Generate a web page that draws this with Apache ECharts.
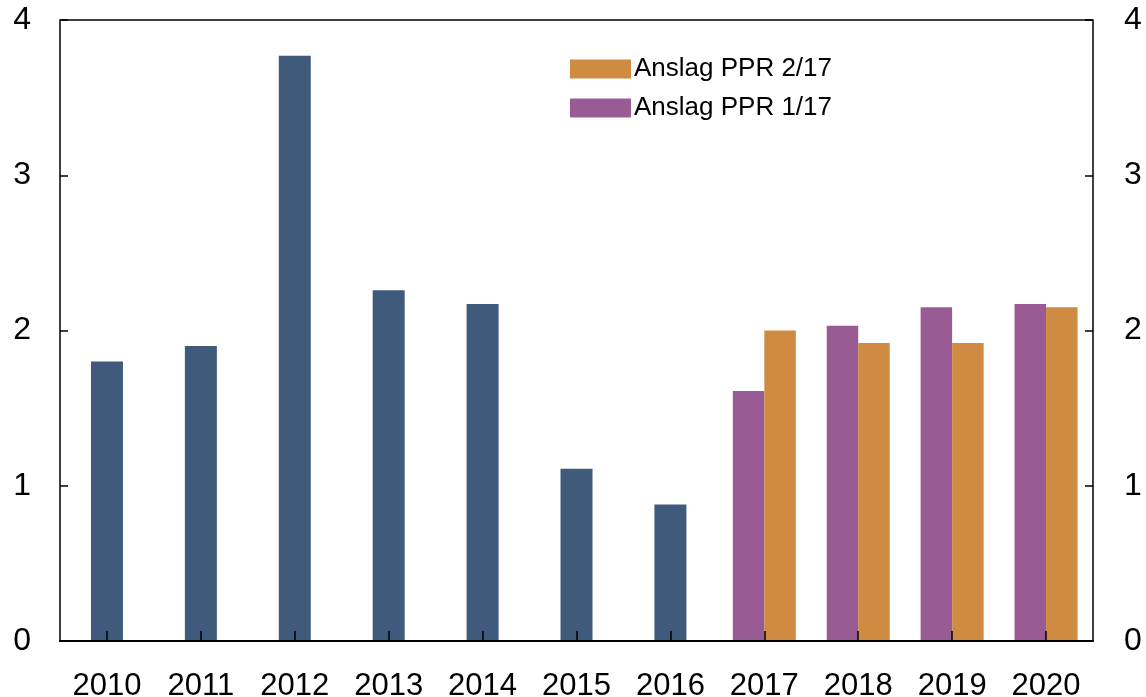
<!DOCTYPE html>
<html lang="en">
<head>
    <meta charset="UTF-8">
    <title>Anslag PPR</title>
    <script src="https://cdn.jsdelivr.net/npm/echarts@6.0.0/dist/echarts.min.js"></script>
    <style>
        html, body { margin: 0; padding: 0; background: #fff; }
    </style>
</head>
<body>
<div id="chart" style="width: 1146px; height: 697px;"></div>
<script>
    var years = ['2010', '2011', '2012', '2013', '2014', '2015', '2016', '2017', '2018', '2019', '2020'];
    var historic = [1.80, 1.90, 3.77, 2.26, 2.17, 1.11, 0.88, null, null, null, null];
    var ppr117 = [null, null, null, null, null, null, null, 1.61, 2.03, 2.15, 2.17];
    var ppr217 = [null, null, null, null, null, null, null, 2.00, 1.92, 1.92, 2.15];
    var yTicks = [0, 1, 2, 3, 4];

    var font = 'Liberation Sans, Arial, sans-serif';
    var chart = echarts.init(document.getElementById('chart'));

    function valueAxis(pos) {
        return {
            type: 'value',
            position: pos,
            min: yTicks[0],
            max: yTicks[yTicks.length - 1],
            interval: 1,
            axisLine: { show: false },
            axisTick: { show: true, inside: true, length: 8, lineStyle: { color: '#000', width: 1.5 } },
            splitLine: { show: false },
            axisLabel: { color: '#000', fontSize: 32, fontFamily: font, margin: pos === 'left' ? 29 : 31 },
            z: 10
        };
    }

    var option = {
        animation: false,
        grid: {
            left: 60, right: 53, top: 20, bottom: 56,
            outerBoundsMode: 'none',
            containLabel: false,
            show: true, borderColor: '#000', borderWidth: 1.5, backgroundColor: 'transparent'
        },
        legend: {
            data: ['Anslag PPR 2/17', 'Anslag PPR 1/17'],
            orient: 'vertical',
            left: 570, top: 56,
            padding: 0,
            itemWidth: 61, itemHeight: 19, itemGap: 13,
            icon: 'rect',
            textStyle: { color: '#000', fontSize: 26, lineHeight: 26, fontFamily: font, padding: [0, 0, 0, -2] }
        },
        xAxis: [
            {
                type: 'category',
                data: years,
                axisLine: { show: true, lineStyle: { color: '#000', width: 2 } },
                axisTick: { show: true, inside: true, alignWithLabel: true, length: 10, lineStyle: { color: '#000', width: 1.5 } },
                axisLabel: { color: '#000', fontSize: 31, fontFamily: font, margin: 30 },
                z: 10
            },
            {
                type: 'category',
                data: years,
                show: false
            }
        ],
        yAxis: [valueAxis('left'), valueAxis('right')],
        series: [
            {
                name: 'Historisk',
                type: 'bar',
                xAxisIndex: 0,
                yAxisIndex: 0,
                barWidth: 32,
                itemStyle: { color: '#3f5a7a' },
                data: historic
            },
            {
                name: 'Anslag PPR 1/17',
                type: 'bar',
                xAxisIndex: 1,
                yAxisIndex: 0,
                barWidth: 31.5,
                barGap: '0%',
                itemStyle: { color: '#985b94' },
                data: ppr117
            },
            {
                name: 'Anslag PPR 2/17',
                type: 'bar',
                xAxisIndex: 1,
                yAxisIndex: 0,
                barWidth: 31.5,
                barGap: '0%',
                itemStyle: { color: '#cf8b41' },
                data: ppr217
            }
        ]
    };

    chart.setOption(option);
</script>
</body>
</html>
